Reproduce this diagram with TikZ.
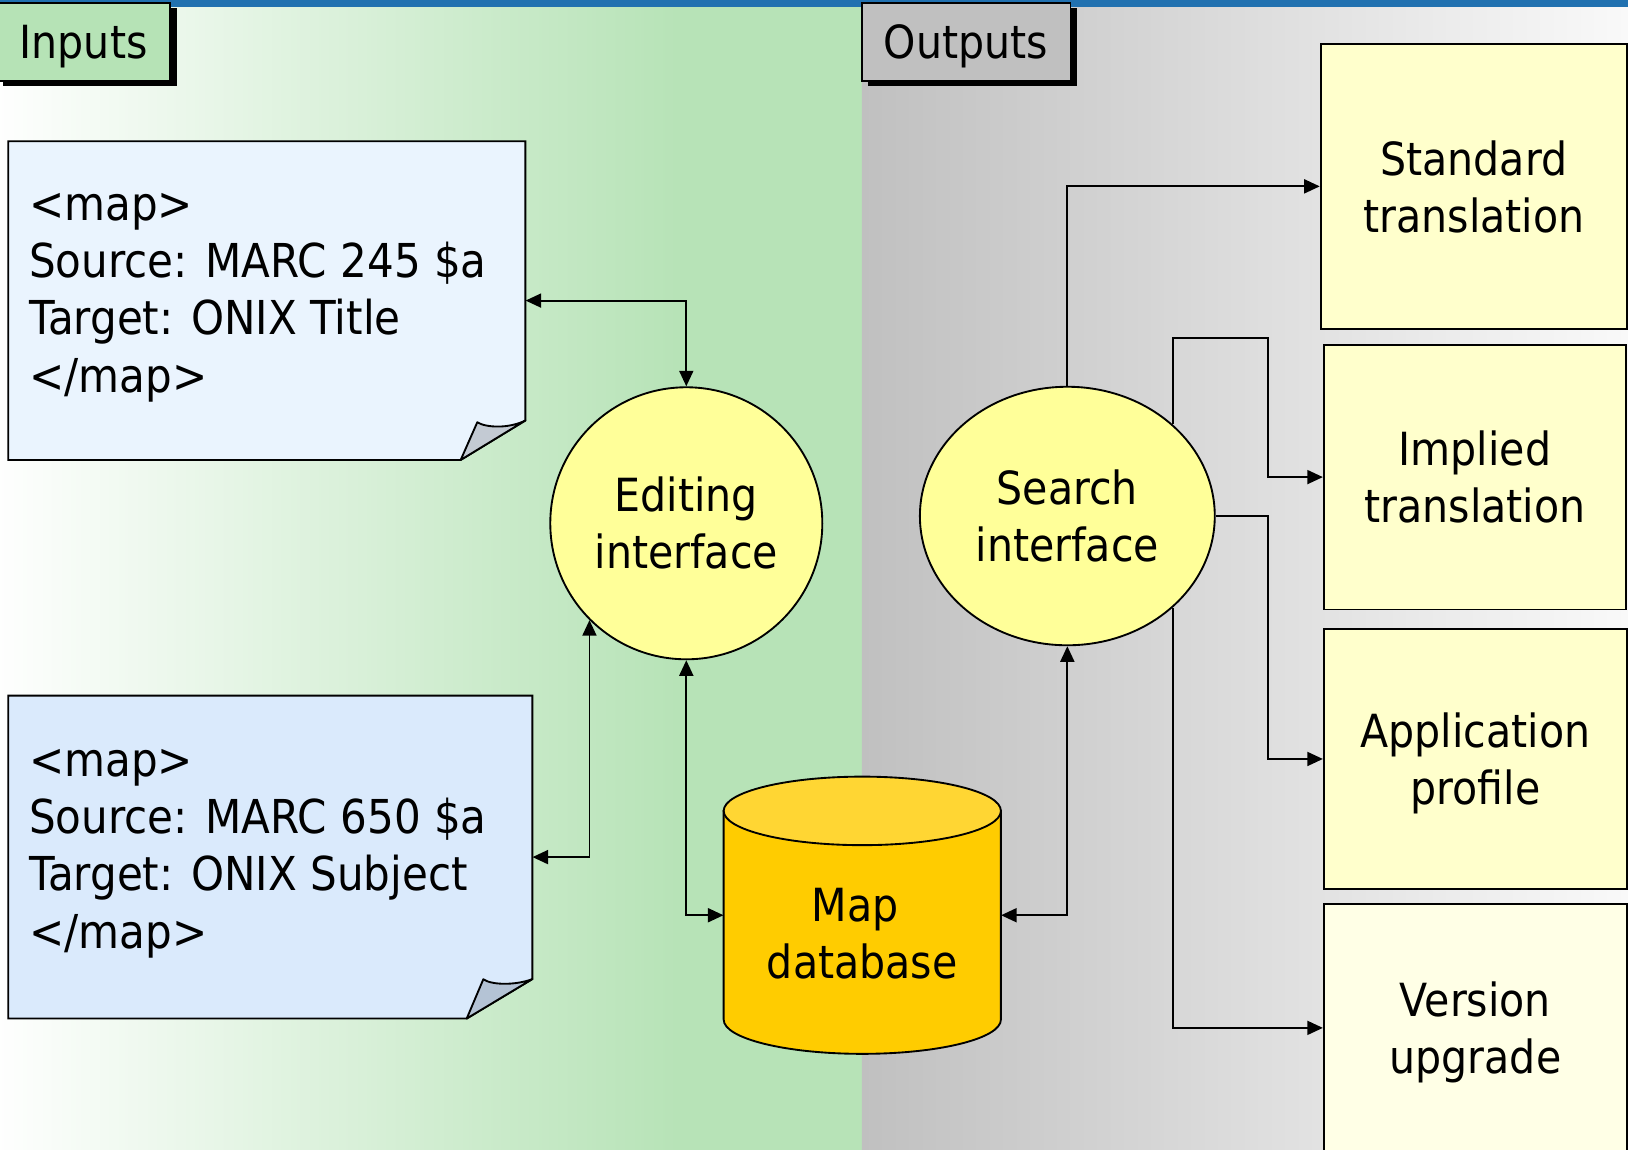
\documentclass[tikz,border=0pt]{standalone}
\usepackage{fontspec}
\setmainfont{DejaVu Sans}[FakeStretch=0.9]
\usetikzlibrary{shapes.geometric,arrows.meta,calc}
\definecolor{bggreen}{HTML}{B7E3B7}
\definecolor{bggrayL}{HTML}{C0C0C0}
\definecolor{bggrayR}{HTML}{FAFAFA}
\definecolor{topblue}{HTML}{2171B0}
\definecolor{labelgreen}{HTML}{B6E3B6}
\definecolor{labelgray}{HTML}{C0C0C0}
\definecolor{docA}{HTML}{EAF4FE}
\definecolor{docB}{HTML}{DAEAFC}
\definecolor{foldA}{HTML}{C3CAD3}
\definecolor{foldB}{HTML}{B4C3D5}
\definecolor{circyellow}{HTML}{FFFF99}
\definecolor{dbbody}{HTML}{FFCC00}
\definecolor{dbtop}{HTML}{FFD633}
\definecolor{boxyellow}{HTML}{FFFFCC}
\definecolor{boxpale}{HTML}{FFFFE6}
\newcommand\dgfont{\fontsize{44}{55}\selectfont}
\newcommand\docfont{\fontsize{45}{55}\selectfont}
\tikzset{
  lw/.style={line width=1.8pt},
  conn/.style={lw, draw=black},
  tipstyle/.tip={Triangle[length=15pt,width=13.5pt]},
  both/.style={conn, tipstyle-tipstyle},
  onearr/.style={conn, -tipstyle},
  outbox/.style={rectangle, draw, lw, fill=boxyellow, align=center, font=\dgfont, inner sep=0pt, text depth=0pt},
  hub/.style={draw, lw, fill=circyellow, align=center, font=\dgfont, inner sep=0pt},
  doctext/.style={font=\docfont, anchor=base west, inner sep=0pt},
  tag/.style={rectangle, draw, lw, font=\dgfont, inner sep=0pt, minimum height=75pt, text depth=0pt}
}
\begin{document}
\begin{tikzpicture}[x=1pt,y=-1pt]
\useasboundingbox (0,0) rectangle (1568,1107);
\begin{scope}
\clip (0,0) rectangle (1568,1107);
% backgrounds
\fill[bggreen] (-10,-10) rectangle (830,1120);
\shade[left color=white, right color=bggreen] (-10,-10) rectangle (652,1120);
\shade[left color=bggrayL, right color=bggrayR] (830,-10) rectangle (1580,1120);
\fill[topblue] (0,0) rectangle (1568,6.5);

% section labels
\fill[black] (3,8) rectangle (170,83);
\node[tag, fill=labelgreen, minimum width=167pt] (inputs) at (80.5,40.5) {Inputs};
\fill[black] (836,8) rectangle (1037,83);
\node[tag, fill=labelgray, minimum width=201pt] (outputs) at (930.5,40.5) {Outputs};

% document 1
\node[minimum width=498pt, minimum height=307pt, inner sep=0pt] (doc1) at (257,289.5) {};
\filldraw[lw, fill=docA, line join=miter] (8,136) -- (506,136) -- (506,405) -- (443.7,443) -- (8,443) -- cycle;
\filldraw[lw, fill=foldA, line join=round] (443.7,443) -- (459.7,406.7) .. controls (468,412) and (490,413) .. (506,405) -- cycle;
\node[doctext] (d1a) at (28,212) {<map>};
\node[doctext] (d1b) at (28,267) {Source: MARC 245 \$a};
\node[doctext] (d1c) at (28,322) {Target: ONIX Title};
\node[doctext] (d1d) at (28,378) {</map>};

% document 2
\node[minimum width=504.7pt, minimum height=311pt, inner sep=0pt] (doc2) at (260.35,825.5) {};
\filldraw[lw, fill=docB, line join=miter] (8,670) -- (512.7,670) -- (512.7,943) -- (449.5,981) -- (8,981) -- cycle;
\filldraw[lw, fill=foldB, line join=round] (449.5,981) -- (465.5,943.2) .. controls (474,949) and (497,949) .. (512.7,943) -- cycle;
\node[doctext] (d2a) at (28,748) {<map>};
\node[doctext] (d2b) at (28,803) {Source: MARC 650 \$a};
\node[doctext] (d2c) at (28,858) {Target: ONIX Subject};
\node[doctext] (d2d) at (28,914) {</map>};

% hubs
\node[hub, circle, minimum size=262pt] (edit) at (661,504) {Editing\\interface};
\node[hub, ellipse, minimum width=284pt, minimum height=249pt] (search) at (1028,497) {Search\\interface};

% map database cylinder
\node[minimum width=267pt, minimum height=267pt, inner sep=0pt] (db) at (830.5,881.5) {};
\filldraw[lw, fill=dbbody] (697,781) -- (697,982) arc[start angle=180, end angle=360, x radius=133.5pt, y radius=33pt] -- (964,781) -- cycle;
\filldraw[lw, fill=dbtop] (830.5,781) ellipse[x radius=133.5pt, y radius=33pt];
\node[font=\dgfont, align=center, inner sep=0pt, text depth=0pt] (dbtext) at (830.5,899) {Map\hspace*{14pt}\\database};

% output boxes
\node[outbox, minimum width=295pt, minimum height=275pt] (std) at (1419.5,179.5) {Standard\\translation};
\node[outbox, minimum width=291pt, minimum height=255pt] (implied) at (1420.5,459.5) {Implied\\translation};
\node[outbox, minimum width=292pt, minimum height=250pt] (app) at (1421,731) {Application\\profile};
\node[outbox, fill=boxpale, minimum width=292pt, minimum height=238pt] (version) at (1421,990) {Version\\upgrade};

% connectors
\draw[both] (doc1.east) -| (edit.north);
\draw[both] (doc2.east) -| (edit.225);
\draw[both] (edit.south) |- (db.west);
\draw[both] (db.east) -| (search.south);
\draw[onearr] (search.north) |- (std.west);
\draw[onearr] (search.41) -- ++(0,-83) -| ($(implied.west)+(-53,0)$) -- (implied.west);
\draw[onearr] (search.east) -| ($(app.west)+(-53,0)$) -- (app.west);
\draw[onearr] (search.-41) |- (version.west);
\end{scope}
\end{tikzpicture}
\end{document}
